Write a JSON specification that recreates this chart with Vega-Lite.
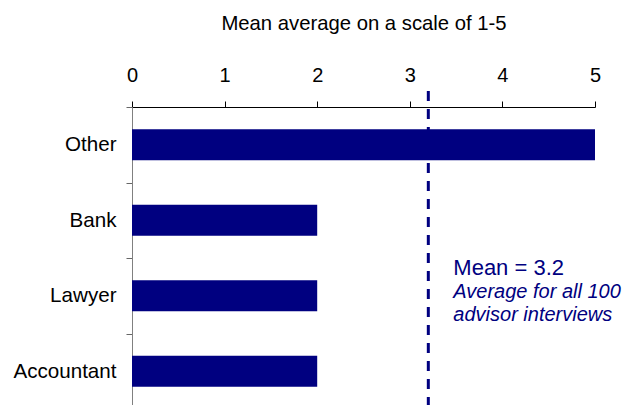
{
  "$schema": "https://vega.github.io/schema/vega-lite/v6.json",
  "autosize": {"type": "none"},
  "padding": {"left": 132, "top": 107, "right": 45, "bottom": 0},
  "width": 463,
  "height": 298,
  "config": {
    "view": {"stroke": null},
    "font": "Liberation Sans",
    "axis": {"grid": false, "labelColor": "#000000", "titleColor": "#000000", "titleFontWeight": "normal"}
  },
  "layer": [
    {
      "data": {
        "values": [
          {"advisor": "Other", "score": 5},
          {"advisor": "Bank", "score": 2},
          {"advisor": "Lawyer", "score": 2},
          {"advisor": "Accountant", "score": 2}
        ]
      },
      "mark": {"type": "bar", "color": "#000080", "height": {"band": 0.41}},
      "encoding": {
        "y": {
          "field": "advisor",
          "type": "nominal",
          "sort": null,
          "scale": {"range": [0, 302], "paddingInner": 0, "paddingOuter": 0},
          "axis": {
            "title": null,
            "labelFontSize": 20.6,
            "labelPadding": 10,
            "tickSize": 6,
            "tickBand": "extent",
            "tickColor": "#666666",
            "domainColor": "#808080"
          }
        },
        "x": {
          "field": "score",
          "type": "quantitative",
          "scale": {"domain": [0, 5], "nice": false},
          "axis": {
            "orient": "top",
            "title": "Mean average on a scale of 1-5",
            "titleFontSize": 20.3,
            "titleY": -78,
            "titleBaseline": "alphabetic",
            "values": [0, 1, 2, 3, 4, 5],
            "format": "d",
            "labelFontSize": 20,
            "labelBaseline": "alphabetic",
            "labelPadding": 20,
            "labelFlush": false,
            "tickSize": 6,
            "tickColor": "#000000",
            "domainColor": "#000000"
          }
        }
      }
    },
    {
      "data": {"values": [{"mean": 3.2}]},
      "mark": {"type": "rule", "color": "#000080", "strokeWidth": 3, "strokeDash": [10, 8], "yOffset": -16},
      "encoding": {
        "x": {"field": "mean", "type": "quantitative"}
      }
    },
    {
      "data": {"values": [{"mean": 3.2, "label": "Mean = 3.2"}]},
      "mark": {"type": "text", "color": "#000080", "fontSize": 22, "align": "left", "baseline": "alphabetic", "dx": 25, "dy": -21},
      "encoding": {
        "x": {"field": "mean", "type": "quantitative"},
        "y": {"datum": "Lawyer", "type": "nominal"},
        "text": {"field": "label"}
      }
    },
    {
      "data": {"values": [{"mean": 3.2, "note": "Average for all 100\nadvisor interviews"}]},
      "mark": {"type": "text", "color": "#000080", "fontSize": 20, "fontStyle": "italic", "align": "left", "baseline": "alphabetic", "lineBreak": "\n", "lineHeight": 23, "dx": 25, "dy": 2.5},
      "encoding": {
        "x": {"field": "mean", "type": "quantitative"},
        "y": {"datum": "Lawyer", "type": "nominal"},
        "text": {"field": "note"}
      }
    }
  ]
}
